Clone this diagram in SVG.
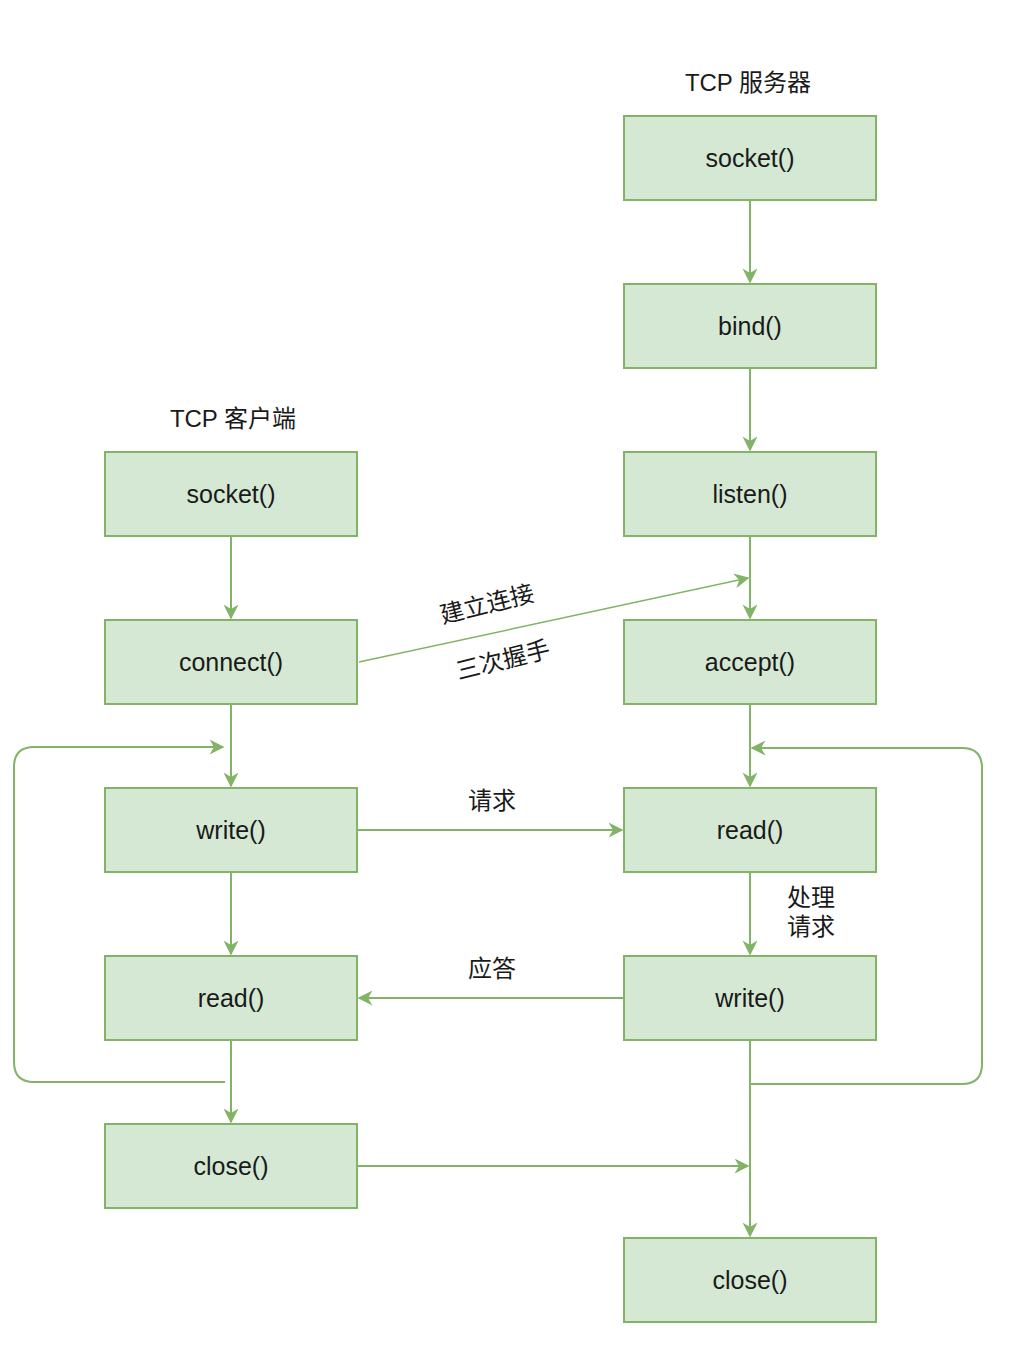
<svg xmlns="http://www.w3.org/2000/svg" width="1020" height="1354" viewBox="0 0 1020 1354">
<defs>
<style>
.box{fill:#d5e8d4;stroke:#82b366;stroke-width:2}
.lbl{font-family:"Liberation Sans","Noto Sans CJK SC",sans-serif;font-size:25px;fill:#1a1a1a;text-anchor:middle;dominant-baseline:central}
.cn{font-family:"Liberation Sans","Noto Sans CJK SC",sans-serif;font-size:24px;fill:#1a1a1a;text-anchor:middle;dominant-baseline:central}
.ln{fill:none;stroke:#82b366;stroke-width:2}
</style>
<marker id="ah" viewBox="0 0 10 10" refX="9" refY="5" markerWidth="15" markerHeight="15" markerUnits="userSpaceOnUse" orient="auto">
<path d="M0,0 L10,5 L0,10 L3,5 Z" fill="#82b366"/>
</marker>
</defs>
<rect width="1020" height="1354" fill="#ffffff"/>
<g id="connectors">
<line class="ln" x1="231" y1="536" x2="231" y2="618" marker-end="url(#ah)"/>
<line class="ln" x1="231" y1="704" x2="231" y2="786" marker-end="url(#ah)"/>
<line class="ln" x1="231" y1="872" x2="231" y2="954" marker-end="url(#ah)"/>
<line class="ln" x1="231" y1="1040" x2="231" y2="1122" marker-end="url(#ah)"/>
<line class="ln" x1="750" y1="200" x2="750" y2="282" marker-end="url(#ah)"/>
<line class="ln" x1="750" y1="368" x2="750" y2="450" marker-end="url(#ah)"/>
<line class="ln" x1="750" y1="536" x2="750" y2="618" marker-end="url(#ah)"/>
<line class="ln" x1="750" y1="704" x2="750" y2="786" marker-end="url(#ah)"/>
<line class="ln" x1="750" y1="872" x2="750" y2="954" marker-end="url(#ah)"/>
<line class="ln" x1="750" y1="1040" x2="750" y2="1236" marker-end="url(#ah)"/>
<line class="ln" x1="359" y1="662" x2="748" y2="578" marker-end="url(#ah)" style="stroke-width:1.5"/>
<line class="ln" x1="357" y1="830" x2="622" y2="830" marker-end="url(#ah)"/>
<line class="ln" x1="624" y1="998" x2="359" y2="998" marker-end="url(#ah)"/>
<line class="ln" x1="357" y1="1166" x2="748" y2="1166" marker-end="url(#ah)"/>
<path class="ln" d="M225,1082 L34,1082 Q14,1082 14,1062 L14,767 Q14,747 34,747 L223,747" marker-end="url(#ah)"/>
<path class="ln" d="M750,1084 L962,1084 Q982,1084 982,1064 L982,768 Q982,748 962,748 L752,748" marker-end="url(#ah)"/>
</g>
<g id="n-client-socket"><rect class="box" x="105" y="452" width="252" height="84"/><text class="lbl" x="231" y="494">socket()</text></g>
<g id="n-client-connect"><rect class="box" x="105" y="620" width="252" height="84"/><text class="lbl" x="231" y="662">connect()</text></g>
<g id="n-client-write"><rect class="box" x="105" y="788" width="252" height="84"/><text class="lbl" x="231" y="830">write()</text></g>
<g id="n-client-read"><rect class="box" x="105" y="956" width="252" height="84"/><text class="lbl" x="231" y="998">read()</text></g>
<g id="n-client-close"><rect class="box" x="105" y="1124" width="252" height="84"/><text class="lbl" x="231" y="1166">close()</text></g>
<g id="n-server-socket"><rect class="box" x="624" y="116" width="252" height="84"/><text class="lbl" x="750" y="158">socket()</text></g>
<g id="n-server-bind"><rect class="box" x="624" y="284" width="252" height="84"/><text class="lbl" x="750" y="326">bind()</text></g>
<g id="n-server-listen"><rect class="box" x="624" y="452" width="252" height="84"/><text class="lbl" x="750" y="494">listen()</text></g>
<g id="n-server-accept"><rect class="box" x="624" y="620" width="252" height="84"/><text class="lbl" x="750" y="662">accept()</text></g>
<g id="n-server-read"><rect class="box" x="624" y="788" width="252" height="84"/><text class="lbl" x="750" y="830">read()</text></g>
<g id="n-server-write"><rect class="box" x="624" y="956" width="252" height="84"/><text class="lbl" x="750" y="998">write()</text></g>
<g id="n-server-close"><rect class="box" x="624" y="1238" width="252" height="84"/><text class="lbl" x="750" y="1280">close()</text></g>
<g id="labels">
<text class="cn" x="748" y="82">TCP 服务器</text>
<text class="cn" x="233" y="418">TCP 客户端</text>
<text class="cn" x="487" y="604" transform="rotate(-14 487 604)">建立连接</text>
<text class="cn" x="503" y="660" transform="rotate(-14 503 660)">三次握手</text>
<text class="cn" x="492" y="800">请求</text>
<text class="cn" x="811" y="897">处理</text>
<text class="cn" x="811" y="926">请求</text>
<text class="cn" x="492" y="968">应答</text>
</g>
</svg>
